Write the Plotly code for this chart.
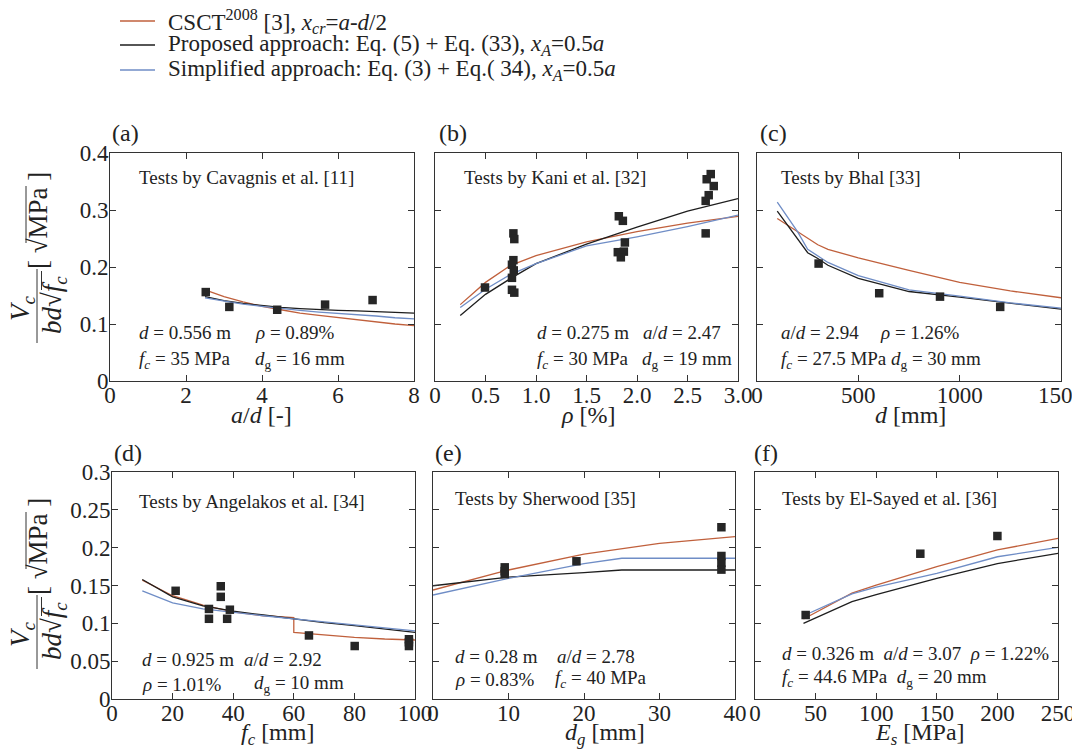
import plotly.graph_objects as go

W, H = 1072, 752
FONT = "Liberation Serif, Times New Roman, DejaVu Serif, serif"
RED = "#c0603c"
BLK = "#1e1e1e"
BLU = "#6f8dc6"
MK = "#262626"

# ---------------- data ----------------
# (a) a/d
a_x = [2.5, 3, 3.5, 4, 4.5, 5, 5.5, 6, 6.5, 7, 7.5, 8]
a_csct = [0.160, 0.148, 0.139, 0.131, 0.125, 0.119, 0.115, 0.111, 0.107, 0.103, 0.100, 0.097]
a_prop = [0.148, 0.141, 0.136, 0.132, 0.129, 0.127, 0.125, 0.124, 0.123, 0.122, 0.120, 0.119]
a_simp = [0.146, 0.140, 0.135, 0.131, 0.127, 0.124, 0.121, 0.119, 0.116, 0.114, 0.111, 0.109]
a_tx = [2.52, 3.14, 4.40, 5.66, 6.91]
a_ty = [0.156, 0.130, 0.125, 0.134, 0.142]

# (b) rho
b_x = [0.25, 0.5, 0.75, 1.0, 1.5, 2.0, 2.5, 3.0]
b_csct = [0.134, 0.173, 0.203, 0.220, 0.244, 0.262, 0.277, 0.289]
b_prop = [0.115, 0.152, 0.180, 0.206, 0.240, 0.270, 0.298, 0.320]
b_simp = [0.129, 0.161, 0.187, 0.206, 0.237, 0.253, 0.271, 0.291]
b_tx = [0.495, 0.776, 0.785, 0.776, 0.762, 0.78, 0.762, 0.762, 0.785,
        1.82, 1.86, 1.88, 1.81, 1.87, 1.84,
        2.73, 2.69, 2.76, 2.71, 2.68, 2.68]
b_ty = [0.164, 0.259, 0.249, 0.212, 0.204, 0.194, 0.181, 0.160, 0.155,
        0.289, 0.281, 0.243, 0.226, 0.227, 0.217,
        0.363, 0.354, 0.342, 0.326, 0.316, 0.259]

# (c) d
c_x = [100, 200, 250, 300, 350, 500, 750, 1000, 1250, 1500]
c_csct = [0.285, 0.262, 0.250, 0.239, 0.231, 0.216, 0.194, 0.173, 0.158, 0.146]
c_prop = [0.298, 0.249, 0.225, 0.215, 0.203, 0.180, 0.157, 0.147, 0.136, 0.126]
c_simp = [0.314, 0.262, 0.231, 0.219, 0.208, 0.185, 0.160, 0.149, 0.137, 0.128]
c_tx = [304, 603, 903, 1200]
c_ty = [0.206, 0.154, 0.148, 0.130]

# (d) fc
d_x = [10, 20, 30, 40, 50, 60, 60, 70, 80, 90, 100]
d_csct = [0.157, 0.1365, 0.124, 0.115, 0.110, 0.1075, 0.088, 0.0846, 0.0815, 0.0793, 0.078]
d_prop = [0.158, 0.135, 0.123, 0.116, 0.111, 0.106, 0.106, 0.101, 0.097, 0.093, 0.088]
d_simp = [0.143, 0.127, 0.119, 0.114, 0.110, 0.106, 0.106, 0.102, 0.098, 0.094, 0.090]
d_tx = [21, 32, 32, 35.9, 35.9, 38.9, 38, 65, 80.1, 98, 98, 98]
d_ty = [0.143, 0.119, 0.106, 0.149, 0.135, 0.118, 0.106, 0.084, 0.070, 0.079, 0.075, 0.070]

# (e) dg
e_x = [0, 10, 20, 25, 30, 40]
e_csct = [0.144, 0.1705, 0.1916, 0.199, 0.2057, 0.2145]
e_prop = [0.1497, 0.161, 0.167, 0.1705, 0.1705, 0.1705]
e_simp = [0.1374, 0.1595, 0.179, 0.186, 0.186, 0.186]
e_tx = [9.5, 9.5, 9.5, 19, 38.2, 38.2, 38.2, 38.2]
e_ty = [0.174, 0.169, 0.165, 0.182, 0.227, 0.189, 0.180, 0.171]

# (f) Es
f_x = [40, 80, 100, 150, 200, 250]
f_csct = [0.1057, 0.140, 0.1505, 0.175, 0.197, 0.2124]
f_prop = [0.100, 0.1286, 0.138, 0.1595, 0.179, 0.1925]
f_simp = [0.110, 0.139, 0.148, 0.166, 0.188, 0.2005]
f_tx = [41.8, 136.4, 200]
f_ty = [0.111, 0.192, 0.2154]

names = [
    "CSCT<sup>2008</sup> [3], <i>x</i><sub><i>cr</i></sub>=<i>a</i>-<i>d</i>/2",
    "Proposed approach: Eq. (5) + Eq. (33), <i>x</i><sub><i>A</i></sub>=0.5<i>a</i>",
    "Simplified approach: Eq. (3) + Eq.( 34), <i>x</i><sub><i>A</i></sub>=0.5<i>a</i>",
]

panels = [
    dict(x=a_x, s=[a_csct, a_prop, a_simp], tx=a_tx, ty=a_ty,
         xr=[0, 8], xt=[0, 2, 4, 6, 8], xtt=["0", "2", "4", "6", "8"],
         yr=[0, 0.4], yt=[0, 0.1, 0.2, 0.3, 0.4], ytt=["0", "0.1", "0.2", "0.3", "0.4"],
         box=(110, 414, 153, 381)),
    dict(x=b_x, s=[b_csct, b_prop, b_simp], tx=b_tx, ty=b_ty,
         xr=[0, 3], xt=[0, 0.5, 1, 1.5, 2, 2.5, 3], xtt=["0", "0.5", "1.0", "1.5", "2.0", "2.5", "3.0"],
         yr=[0, 0.4], yt=[0, 0.1, 0.2, 0.3, 0.4], ytt=None,
         box=(435, 738, 153, 381)),
    dict(x=c_x, s=[c_csct, c_prop, c_simp], tx=c_tx, ty=c_ty,
         xr=[0, 1500], xt=[0, 500, 1000, 1500], xtt=["0", "500", "1000", "1500"],
         yr=[0, 0.4], yt=[0, 0.1, 0.2, 0.3, 0.4], ytt=None,
         box=(757, 1061, 153, 381)),
    dict(x=d_x, s=[d_csct, d_prop, d_simp], tx=d_tx, ty=d_ty,
         xr=[0, 100], xt=[0, 20, 40, 60, 80, 100], xtt=["0", "20", "40", "60", "80", "100"],
         yr=[0, 0.3], yt=[0, 0.05, 0.1, 0.15, 0.2, 0.25, 0.3],
         ytt=["0", "0.05", "0.1", "0.15", "0.2", "0.25", "0.3"],
         box=(112, 415, 472, 699)),
    dict(x=e_x, s=[e_csct, e_prop, e_simp], tx=e_tx, ty=e_ty,
         xr=[0, 40], xt=[0, 10, 20, 30, 40], xtt=["0", "10", "20", "30", "40"],
         yr=[0, 0.3], yt=[0, 0.05, 0.1, 0.15, 0.2, 0.25, 0.3], ytt=None,
         box=(433, 735, 472, 699)),
    dict(x=f_x, s=[f_csct, f_prop, f_simp], tx=f_tx, ty=f_ty,
         xr=[0, 250], xt=[0, 50, 100, 150, 200, 250], xtt=["0", "50", "100", "150", "200", "250"],
         yr=[0, 0.3], yt=[0, 0.05, 0.1, 0.15, 0.2, 0.25, 0.3], ytt=None,
         box=(755, 1058, 472, 699)),
]


def px(x):
    return x / W


def py(y):
    return 1 - y / H


fig = go.Figure()
layout = {}
colors = [RED, BLK, BLU]
for i, p in enumerate(panels):
    n = "" if i == 0 else str(i + 1)
    xa, ya = "x" + n, "y" + n
    for k in range(3):
        fig.add_trace(go.Scatter(
            x=p["x"], y=p["s"][k], mode="lines", xaxis=xa, yaxis=ya,
            line=dict(color=colors[k], width=1.3), name=names[k],
            showlegend=False))
    fig.add_trace(go.Scatter(
        x=p["tx"], y=p["ty"], mode="markers", xaxis=xa, yaxis=ya,
        marker=dict(symbol="square", size=8.5, color=MK), showlegend=False))
    l, r, t, b = p["box"]
    common = dict(showline=True, linecolor="#333333", linewidth=1, mirror="ticks",
                  ticks="inside", ticklen=6, tickcolor="#333333", showgrid=False,
                  zeroline=False, automargin=False, ticklabeloverflow="allow",
                  tickfont=dict(family=FONT, size=23, color="#222222"))
    layout["xaxis" + n] = dict(domain=[px(l), px(r)], anchor=ya, range=p["xr"],
                               tickmode="array", tickvals=p["xt"], ticktext=p["xtt"],
                               ticklabelstandoff=-7, **common)
    ydict = dict(domain=[py(b), py(t)], anchor=xa, range=p["yr"],
                 tickmode="array", tickvals=p["yt"], ticklabelstandoff=-4, **common)
    if p["ytt"] is None:
        ydict["showticklabels"] = False
    else:
        ydict["ticktext"] = p["ytt"]
    layout["yaxis" + n] = ydict

ann = []


def add_text(x, y, text, size=19, xanchor="left", yanchor="middle", angle=0):
    ann.append(dict(x=px(x), y=py(y), xref="paper", yref="paper", text=text,
                    showarrow=False, xanchor=xanchor, yanchor=yanchor, textangle=angle,
                    font=dict(family=FONT, size=size, color="#222222")))


shapes = []
# manual legend (line samples + labels)
for k, yy in enumerate([21, 45, 70]):
    shapes.append(dict(type="line", xref="paper", yref="paper", x0=px(120), x1=px(155),
                       y0=py(yy), y1=py(yy), line=dict(color=colors[k], width=1.3)))
    add_text(166, yy, names[k], size=23)

# panel letters
for lab, x, y in [("(a)", 110, 133), ("(b)", 437, 133), ("(c)", 758, 133),
                  ("(d)", 112, 453), ("(e)", 433, 453), ("(f)", 752, 453)]:
    add_text(x, y, lab, size=24)

# test labels
add_text(137, 178, "Tests by Cavagnis et al. [11]", size=19)
add_text(462, 178, "Tests by Kani et al. [32]", size=19)
add_text(779, 178, "Tests by Bhal [33]", size=19)
add_text(137, 502, "Tests by Angelakos et al. [34]", size=19)
add_text(453, 498, "Tests by Sherwood [35]", size=19)
add_text(780, 498, "Tests by El-Sayed et al. [36]", size=19)

# parameters
add_text(137, 333, "<i>d</i> = 0.556 m")
add_text(253, 333, "<i>ρ</i> = 0.89%")
add_text(137, 360, "<i>f</i><sub><i>c</i></sub> = 35 MPa")
add_text(253, 360, "<i>d</i><sub>g</sub> = 16 mm")

add_text(535, 333, "<i>d</i> = 0.275 m")
add_text(641, 333, "<i>a</i>/<i>d</i> = 2.47")
add_text(535, 360, "<i>f</i><sub><i>c</i></sub> = 30 MPa")
add_text(640, 360, "<i>d</i><sub>g</sub> = 19 mm")

add_text(779, 333, "<i>a</i>/<i>d</i> = 2.94")
add_text(878, 333, "<i>ρ</i> = 1.26%")
add_text(779, 360, "<i>f</i><sub><i>c</i></sub> = 27.5 MPa")
add_text(889, 360, "<i>d</i><sub>g</sub> = 30 mm")

add_text(140, 659, "<i>d</i> = 0.925 m")
add_text(242, 659, "<i>a</i>/<i>d</i> = 2.92")
add_text(140, 684, "<i>ρ</i> = 1.01%")
add_text(252, 684, "<i>d</i><sub>g</sub> = 10 mm")

add_text(453, 656, "<i>d</i> = 0.28 m")
add_text(555, 656, "<i>a</i>/<i>d</i> = 2.78")
add_text(453, 679, "<i>ρ</i> = 0.83%")
add_text(553, 679, "<i>f</i><sub><i>c</i></sub> = 40 MPa")

add_text(780, 653, "<i>d</i> = 0.326 m  <i>a</i>/<i>d</i> = 3.07  <i>ρ</i> = 1.22%")
add_text(780, 678, "<i>f</i><sub><i>c</i></sub> = 44.6 MPa  <i>d</i><sub>g</sub> = 20 mm")

# x-axis titles
for t, x, y in [("<i>a</i>/<i>d</i> [-]", 261, 415), ("<i>ρ</i> [%]", 588, 415),
                ("<i>d</i> [mm]", 910, 415),
                ("<i>f</i><sub><i>c</i></sub> [mm]", 277, 734),
                ("<i>d</i><sub><i>g</i></sub> [mm]", 605, 734),
                ("<i>E</i><sub><i>s</i></sub> [MPa]", 920, 734)]:
    add_text(x, y, t, size=24, xanchor="center")

# y-axis titles (fraction built from rotated text + rules)
for dy in (0, 326):
    add_text(22, 308 + dy, "<i>V</i><sub><i>c</i></sub>", size=27, xanchor="center", angle=-90)
    add_text(54, 305 + dy, "<i>bd</i>√<i>f</i><sub><i>c</i></sub>", size=27, xanchor="center", angle=-90)
    add_text(38, 221 + dy, "[ √MPa ]", size=27, xanchor="center", angle=-90)
    # fraction bar
    shapes.append(dict(type="line", xref="paper", yref="paper", x0=px(37), x1=px(37),
                       y0=py(269 + dy), y1=py(343 + dy), line=dict(color="#333333", width=1)))
    # radical overline over MPa
    shapes.append(dict(type="line", xref="paper", yref="paper", x0=px(26), x1=px(26),
                       y0=py(186 + dy), y1=py(243 + dy), line=dict(color="#333333", width=1)))
    # radical overline over f_c
    shapes.append(dict(type="line", xref="paper", yref="paper", x0=px(41.5), x1=px(41.5),
                       y0=py(271 + dy), y1=py(290 + dy), line=dict(color="#333333", width=1)))

layout.update(dict(
    width=W, height=H, margin=dict(l=0, r=0, t=0, b=0),
    paper_bgcolor="white", plot_bgcolor="white",
    font=dict(family=FONT, size=21, color="#222222"),
    showlegend=False,
    annotations=ann, shapes=shapes,
))
fig.update_layout(**layout)
fig.write_html("out.html", config={"displayModeBar": False},
               post_script="document.body.style.margin='0';document.body.style.overflow='hidden';")
